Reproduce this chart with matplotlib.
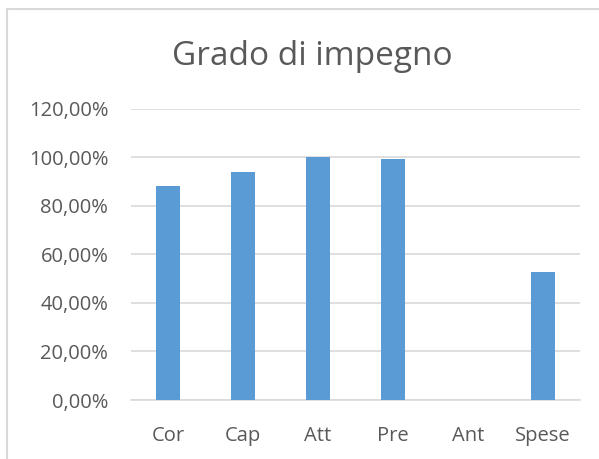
import matplotlib
matplotlib.use('Agg')
import matplotlib.pyplot as plt
from matplotlib.patches import Rectangle
from matplotlib.ticker import FuncFormatter

categories = ['Cor', 'Cap', 'Att', 'Pre', 'Ant', 'Spese']
impegno = [0.882, 0.937, 1.0, 0.992, 0.0, 0.527]

plt.rcParams['font.family'] = ['Open Sans', 'DejaVu Sans']
grey = '#595959'

fig = plt.figure(figsize=(5.99, 4.59), dpi=100)
ax = fig.add_axes([0.2179, 0.1285, 0.7512, 0.6349])

x = range(len(categories))
ax.bar(x, impegno, width=0.32, color='#5b9bd5', zorder=3)

ax.set_xlim(-0.5, len(categories) - 0.5)
ax.set_ylim(0, 1.2)
ax.set_yticks([0, 0.2, 0.4, 0.6, 0.8, 1.0, 1.2])
ax.yaxis.set_major_formatter(FuncFormatter(lambda v, p: ('%.2f%%' % (v * 100)).replace('.', ',')))
ax.set_xticks(list(x))
ax.set_xticklabels(categories)
ax.tick_params(axis='both', length=0, labelsize=14.5, colors=grey)
ax.tick_params(axis='y', pad=16)
ax.tick_params(axis='x', pad=19)
ax.grid(axis='y', color='#d9d9d9', linewidth=1.2, zorder=0)
for s in ['top', 'right', 'left']:
    ax.spines[s].set_visible(False)
ax.spines['bottom'].set_color('#d9d9d9')
ax.spines['bottom'].set_linewidth(1.2)

fig.text(0.521, 0.877, 'Grado di impegno', ha='center', va='center', fontsize=24, color=grey)

# outer chart frame
fig.patches.append(Rectangle((7 / 599, -0.1), 1.2, 1 - 9 / 459 + 0.1, transform=fig.transFigure,
                             fill=False, edgecolor='#d9d9d9', linewidth=1.5))

fig.savefig('out.png', dpi=100)
